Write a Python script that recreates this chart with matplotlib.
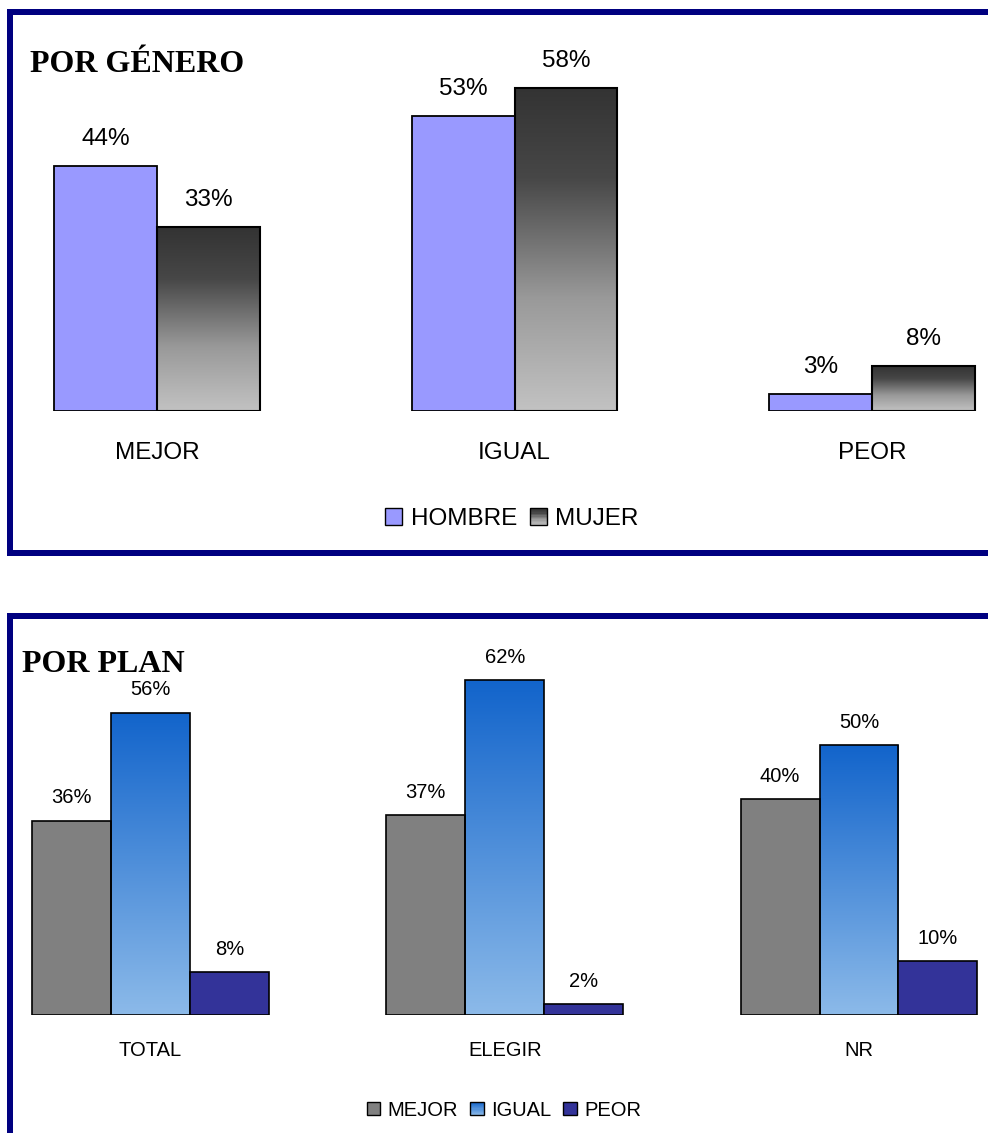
import numpy as np
import matplotlib
matplotlib.use('Agg')
import matplotlib.pyplot as plt
from matplotlib.colors import LinearSegmentedColormap
from matplotlib.patches import Rectangle
from matplotlib.legend_handler import HandlerBase
from matplotlib.lines import Line2D

# datos
generos = ['MEJOR', 'IGUAL', 'PEOR']
hombre = [44, 53, 3]
mujer = [33, 58, 8]

planes = ['TOTAL', 'ELEGIR', 'NR']
mejor = [36, 37, 40]
igual = [56, 62, 50]
peor = [8, 2, 10]

W, H = 988, 1133
NAVY = '#000080'
plt.rcParams['font.family'] = ['Liberation Sans', 'DejaVu Sans']

gris_grad = LinearSegmentedColormap.from_list(
    'gris', [(0, '#c2c2c2'), (0.35, '#999999'), (0.72, '#474747'), (1, '#333333')])
azul_grad = LinearSegmentedColormap.from_list('azul', ['#8cbae9', '#1264cb'])


def fx(px):
    return px / W


def fy(py):
    return 1 - py / H


def gradient_bars(ax, bars, cmap):
    grad = np.linspace(0, 1, 256).reshape(-1, 1)
    for b in bars:
        x, w, h = b.get_x(), b.get_width(), b.get_height()
        im = ax.imshow(grad, extent=[x, x + w, 0, h], origin='lower',
                       aspect='auto', cmap=cmap, zorder=2)
        im.set_clip_path(b)


class GradientHandler(HandlerBase):
    def __init__(self, cmap):
        super().__init__()
        self.cmap = cmap

    def create_artists(self, legend, orig_handle, xdescent, ydescent,
                       width, height, fontsize, trans):
        arts = []
        n = 12
        for i in range(n):
            arts.append(Rectangle((-xdescent, -ydescent + height * i / n), width, height / n,
                                  facecolor=self.cmap((i + 0.5) / n), edgecolor='none',
                                  transform=trans))
        arts.append(Rectangle((-xdescent, -ydescent), width, height, facecolor='none',
                              edgecolor='black', lw=1, transform=trans))
        return arts


def clean(ax):
    for s in ax.spines.values():
        s.set_visible(False)
    ax.set_yticks([])
    ax.patch.set_alpha(0)


fig = plt.figure(figsize=(W / 100, H / 100), dpi=100)

# ---------- POR GENERO ----------
ax1 = fig.add_axes([fx(14), fy(411), fx(974), 395 / H])
x = np.arange(len(generos))
bw = 0.288
b_h = ax1.bar(x - bw / 2, hombre, bw, color='#9999ff', edgecolor='black', lw=1.3, zorder=3)
b_m = ax1.bar(x + bw / 2, mujer, bw, color='none', edgecolor='black', lw=1.5, zorder=3)
gradient_bars(ax1, b_m, gris_grad)
ax1.bar_label(b_h, labels=[f'{v}%' for v in hombre], padding=11.5, fontsize=17.5)
ax1.bar_label(b_m, labels=[f'{v}%' for v in mujer], padding=11.5, fontsize=17.5)
ax1.set_xticks(x, generos)
ax1.tick_params(axis='x', length=0, pad=22, labelsize=17.5)
ax1.set_xlim((14 - 157) / 357.5, (988 - 157) / 357.5)
ax1.set_ylim(0, 395 / 5.57)
clean(ax1)

p_h = Rectangle((0, 0), 1, 1, facecolor='#9999ff', edgecolor='black', lw=1)
p_m = Rectangle((0, 0), 1, 1)
ax1.legend([p_h, p_m], ['HOMBRE', 'MUJER'], handler_map={p_m: GradientHandler(gris_grad)},
           loc='center', bbox_to_anchor=(fx(512), fy(519)), bbox_transform=fig.transFigure,
           ncol=2, frameon=False, fontsize=17.5, handlelength=0.7, handleheight=0.7,
           handletextpad=0.36, columnspacing=0.5, borderpad=0)

fig.text(fx(30), fy(72), 'POR GÉNERO', family='Liberation Serif', weight='bold',
         fontsize=23, ha='left', va='baseline')

# ---------- POR PLAN ----------
ax2 = fig.add_axes([fx(14), fy(1015), fx(974), 395 / H])
x = np.arange(len(planes))
bw = 0.223
b1 = ax2.bar(x - bw, mejor, bw, color='#808080', edgecolor='black', lw=1.2, zorder=3)
b2 = ax2.bar(x, igual, bw, color='none', edgecolor='black', lw=1.2, zorder=3)
b3 = ax2.bar(x + bw, peor, bw, color='#333399', edgecolor='black', lw=1.2, zorder=3)
gradient_bars(ax2, b2, azul_grad)
for bars, vals in [(b1, mejor), (b2, igual), (b3, peor)]:
    ax2.bar_label(bars, labels=[f'{v}%' for v in vals], padding=9.5, fontsize=14.5)
ax2.set_xticks(x, planes)
ax2.tick_params(axis='x', length=0, pad=19, labelsize=14.5)
ax2.set_xlim((14 - 150.5) / 354.25, (988 - 150.5) / 354.25)
ax2.set_ylim(0, 395 / 5.4)
clean(ax2)

q1 = Rectangle((0, 0), 1, 1, facecolor='#808080', edgecolor='black', lw=1)
q2 = Rectangle((0, 0), 1, 1)
q3 = Rectangle((0, 0), 1, 1, facecolor='#333399', edgecolor='black', lw=1)
ax2.legend([q1, q2, q3], ['MEJOR', 'IGUAL', 'PEOR'], handler_map={q2: GradientHandler(azul_grad)},
           loc='center', bbox_to_anchor=(fx(504), fy(1110)), bbox_transform=fig.transFigure,
           ncol=3, frameon=False, fontsize=14.5, handlelength=0.67, handleheight=0.67,
           handletextpad=0.36, columnspacing=0.6, borderpad=0)

fig.text(fx(22), fy(672), 'POR PLAN', family='Liberation Serif', weight='bold',
         fontsize=23, ha='left', va='baseline')

# marcos azules
lw = 6 * 72 / 100
for xs, ys in [((10, 988), (12, 12)), ((10, 10), (12, 553)), ((10, 988), (553, 553)),
               ((10, 988), (616, 616)), ((10, 10), (616, 1133))]:
    fig.add_artist(Line2D([fx(v) for v in xs], [fy(v) for v in ys], color=NAVY, lw=lw,
                          solid_capstyle='projecting', transform=fig.transFigure))

fig.savefig('out.png', dpi=100, facecolor='white')
